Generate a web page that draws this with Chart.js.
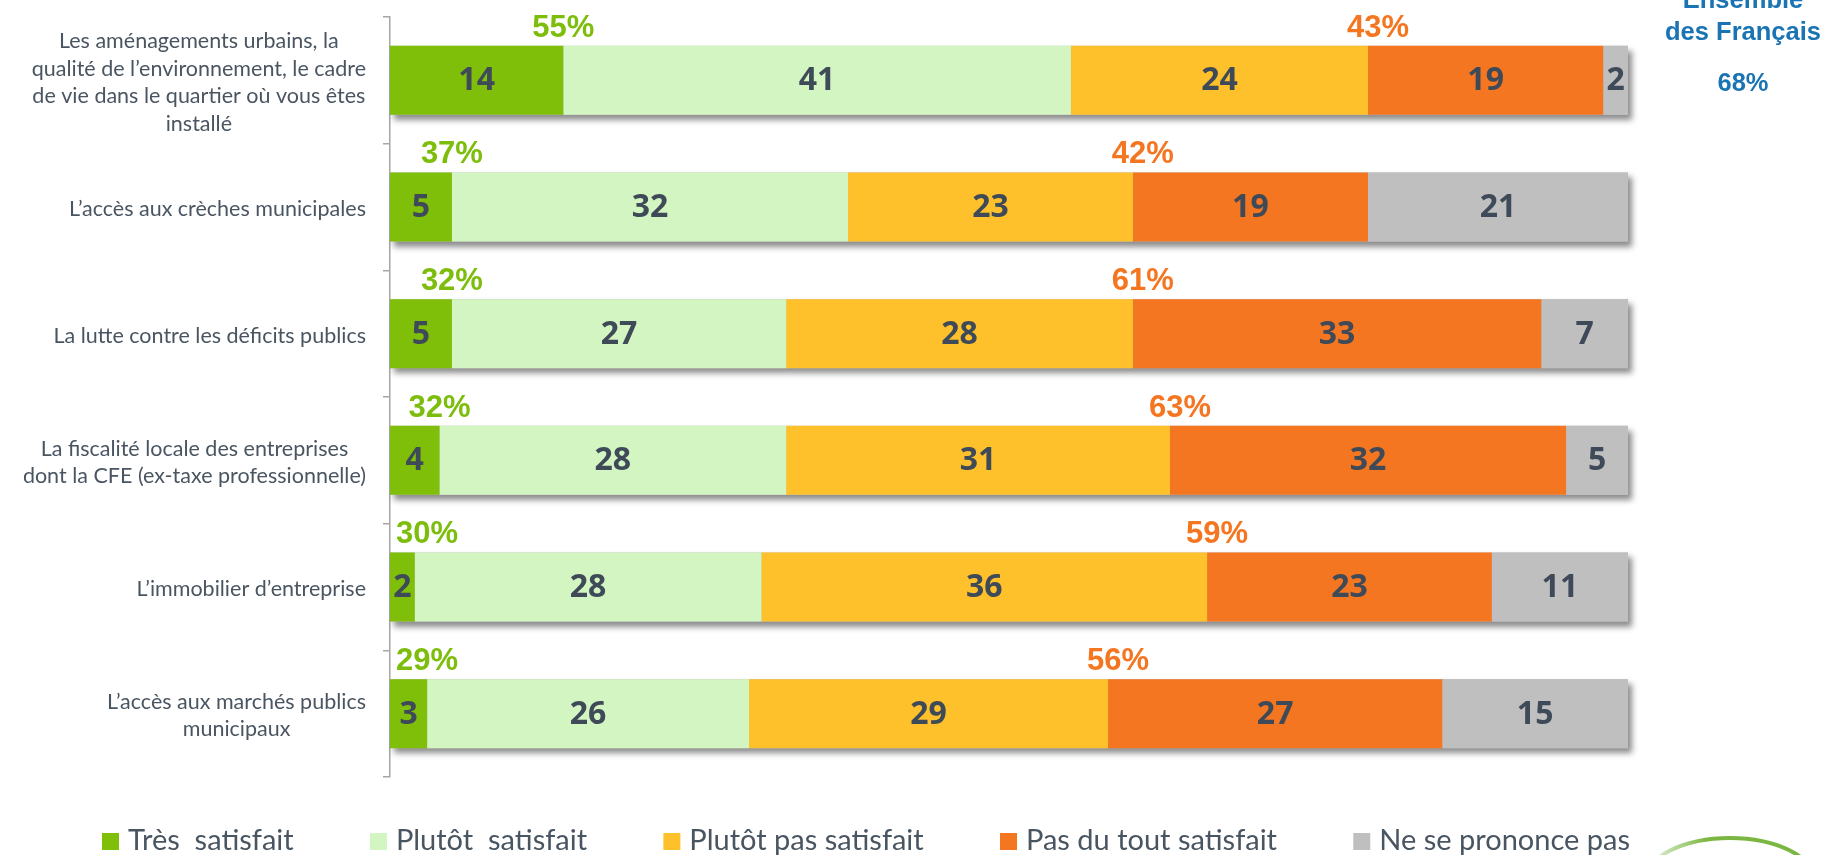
<!DOCTYPE html>
<html>
<head>
<meta charset="utf-8">
<script src="https://cdn.jsdelivr.net/npm/chart.js@4/dist/chart.umd.min.js"></script>
<style>
  html, body { margin: 0; padding: 0; background: #fff; }
</style>
</head>
<body>
<canvas id="chart" width="1826" height="855"></canvas>
<script>

/* ------------------------------------------------ */

const categories = [
  ['Les aménagements urbains, la', 'qualité de l’environnement, le cadre', 'de vie dans le quartier où vous êtes', 'installé'],
  ['L’accès aux crèches municipales'],
  ['La lutte contre les déficits publics'],
  ['La fiscalité locale des entreprises', 'dont la CFE (ex-taxe professionnelle)'],
  ['L’immobilier d’entreprise'],
  ['L’accès aux marchés publics', 'municipaux'],
];
const seriesNames = ['Très  satisfait', 'Plutôt  satisfait', 'Plutôt pas satisfait', 'Pas du tout satisfait', 'Ne se prononce pas'];
const tresSatisfait      = [14, 5, 5, 4, 2, 3];
const plutotSatisfait    = [41, 32, 27, 28, 28, 26];
const plutotPasSatisfait = [24, 23, 28, 31, 36, 29];
const pasDuToutSatisfait = [19, 19, 33, 32, 23, 27];
const neSePrononcePas    = [2, 21, 7, 5, 11, 15];
const ensembleTitle = ['Ensemble', 'des Français'];
const ensembleValue = '68%';

const seriesColors = ['#7fbf0a', '#d3f5c2', '#fec12b', '#f47621', '#bfbfbf'];
const labelColor = '#4a5562';
const numberColor = '#3e4a57';
const greenText = '#7dbd0c';
const orangeText = '#f47621';
const blueText = '#1a74b3';

/* ------------------------------------------------ */

// one shadow per stacked bar, then values / totals on top
const barDecor = {
  id: 'barDecor',
  beforeDatasetsDraw(chart) {
    let ctx = chart.ctx;
    let n = chart.data.datasets.length;
    ctx.save();
    ctx.shadowColor = 'rgba(0, 0, 0, 0.45)';
    ctx.shadowBlur = 6;
    ctx.shadowOffsetX = 4;
    ctx.shadowOffsetY = 5;
    ctx.fillStyle = '#bfbfbf';
    categories.forEach((c, i) => {
      let first = chart.getDatasetMeta(0).data[i];
      let last = chart.getDatasetMeta(n - 1).data[i];
      let top = first.y - first.height / 2;
      ctx.fillRect(first.base, top, last.x - first.base, first.height);
    });
    ctx.restore();
  },
  afterDatasetsDraw(chart) {
    let ctx = chart.ctx;
    ctx.save();

    ctx.font = 'bold 32px "Open Sans"';
    ctx.fillStyle = numberColor;
    ctx.textAlign = 'center';
    ctx.textBaseline = 'middle';
    chart.data.datasets.forEach((ds, di) => {
      let meta = chart.getDatasetMeta(di);
      meta.data.forEach((bar, i) => {
        let cx = (bar.x + bar.base) / 2;
        ctx.fillText(ds.data[i], cx, bar.y + 1);
      });
    });

    ctx.font = 'bold 31px "Liberation Sans"';
    ctx.textBaseline = 'alphabetic';
    let left = chart.chartArea.left;
    categories.forEach((c, i) => {
      let g = chart.getDatasetMeta(0).data[i];
      let o = chart.getDatasetMeta(3).data[i];
      let top = g.y - g.height / 2;

      let sat = (tresSatisfait[i] + plutotSatisfait[i]) + '%';
      let w = ctx.measureText(sat).width;
      let gx = Math.max(g.x, left + 6 + w / 2);
      ctx.fillStyle = greenText;
      ctx.fillText(sat, gx, top - 9);

      let unsat = (plutotPasSatisfait[i] + pasDuToutSatisfait[i]) + '%';
      ctx.fillStyle = orangeText;
      ctx.fillText(unsat, o.base + 10, top - 9);
    });
    ctx.restore();
  },
  afterDraw(chart) {
    let ctx = chart.ctx;
    let area = chart.chartArea;
    let yScale = chart.scales.y;
    ctx.save();

    // category labels: block right aligned, lines centered
    ctx.font = '21.5px Lato';
    ctx.fillStyle = labelColor;
    ctx.textAlign = 'center';
    ctx.textBaseline = 'middle';
    let lh = 27.5;
    categories.forEach((lines, i) => {
      let cy = yScale.getPixelForValue(i);
      let w = Math.max(...lines.map((l) => ctx.measureText(l).width));
      let cx = area.left - 24 - w / 2;
      lines.forEach((l, j) => {
        ctx.fillText(l, cx, cy + 2 + (j - (lines.length - 1) / 2) * lh);
      });
    });

    // legend
    ctx.font = '29px Lato';
    ctx.textAlign = 'left';
    ctx.textBaseline = 'alphabetic';
    let box = 17, gap = 9;
    let startX = 102, endX = 1630;
    let widths = seriesNames.map((n) => ctx.measureText(n).width);
    let used = widths.reduce((a, b) => a + b, 0) + seriesNames.length * (box + gap);
    let spacing = (endX - startX - used) / (seriesNames.length - 1);
    let x = startX;
    let base = 850;
    seriesNames.forEach((n, i) => {
      ctx.fillStyle = seriesColors[i];
      ctx.fillRect(x, base - box, box, box);
      ctx.fillStyle = labelColor;
      ctx.fillText(n, x + box + gap, base);
      x += box + gap + widths[i] + spacing;
    });

    // right column header
    ctx.font = 'bold 25.5px "Liberation Sans"';
    ctx.fillStyle = blueText;
    ctx.textAlign = 'center';
    ctx.fillText(ensembleTitle[0], 1743, 8);
    ctx.fillText(ensembleTitle[1], 1743, 40);
    ctx.fillText(ensembleValue, 1743, 91);

    // logo arc, bottom right
    let grad = ctx.createLinearGradient(1650, 0, 1815, 0);
    grad.addColorStop(0, 'rgba(122, 182, 64, 0.2)');
    grad.addColorStop(0.35, '#7ab640');
    grad.addColorStop(1, '#7ab640');
    ctx.beginPath();
    ctx.ellipse(1730, 880, 84, 42, 0, Math.PI, Math.PI * 2);
    ctx.strokeStyle = grad;
    ctx.lineWidth = 4;
    ctx.stroke();

    ctx.restore();
  }
};

/* ------------------------------------------------ */

function generateChart() {
  let ctx = document.getElementById('chart').getContext('2d');
  let series = [tresSatisfait, plutotSatisfait, plutotPasSatisfait, pasDuToutSatisfait, neSePrononcePas];
  let datasets = series.map((values, i) => {
    return {
      label: seriesNames[i],
      data: values,
      backgroundColor: seriesColors[i],
      borderWidth: 0,
      barPercentage: 0.545,
      categoryPercentage: 1,
      clip: false,
    };
  });

  let config = {
    type: 'bar',
    data: {
      labels: categories,
      datasets: datasets,
    },
    options: {
      indexAxis: 'y',
      responsive: false,
      animation: false,
      layout: {
        padding: { top: 17, bottom: 78, left: 0, right: 198 },
      },
      plugins: {
        legend: { display: false },
        tooltip: { enabled: false },
      },
      scales: {
        x: {
          stacked: true,
          display: false,
          min: 0,
          max: 100,
        },
        y: {
          stacked: true,
          offset: true,
          grid: {
            offset: true,
            drawOnChartArea: false,
            drawTicks: true,
            tickLength: 7,
            color: '#a6a6a6',
            lineWidth: 1.5,
          },
          border: { display: true, color: '#a6a6a6', width: 1.5 },
          ticks: { display: false },
          afterFit(scale) { scale.width = 390; },
        },
      },
    },
    plugins: [barDecor],
  };

  return new Chart(ctx, config);
}

let chart = generateChart();

</script>
</body>
</html>
